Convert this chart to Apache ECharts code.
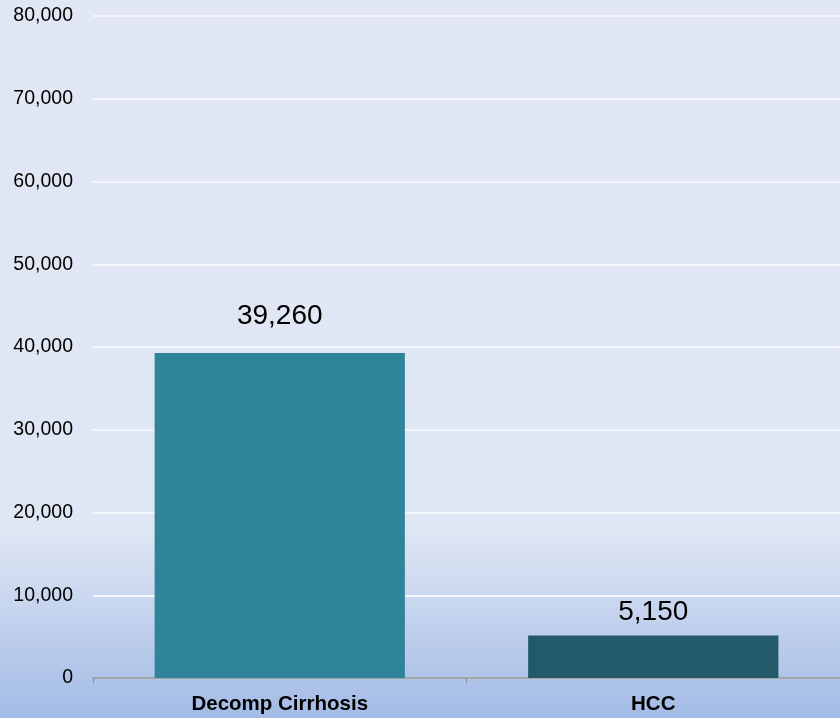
<!DOCTYPE html>
<html>
<head>
<meta charset="utf-8">
<script src="https://cdn.jsdelivr.net/npm/echarts@6/dist/echarts.min.js"></script>
<style>
  html, body { margin: 0; padding: 0; }
  #chart { width: 840px; height: 718px; }
</style>
</head>
<body>
<div id="chart"></div>
<script>
// Annual cases by outcome
const categories = ['Decomp Cirrhosis', 'HCC'];
const values = [39260, 5150];
const barColors = ['#2f8499', '#225a69'];
const labelGaps = [23, 9];

const chart = echarts.init(document.getElementById('chart'));

chart.setOption({
  backgroundColor: new echarts.graphic.LinearGradient(0, 0, 0, 1, [
    { offset: 0, color: '#e1e7f4' },
    { offset: 0.74, color: '#dfe6f4' },
    { offset: 1, color: '#a3bbe6' }
  ]),
  animation: false,
  grid: { left: 93, right: 0, top: 16, bottom: 40, containLabel: false },
  xAxis: {
    type: 'category',
    data: categories,
    axisLine: { lineStyle: { color: '#8a8a8a', width: 1.5 } },
    axisTick: { show: true, length: 5, lineStyle: { color: '#8a8a8a' } },
    axisLabel: {
      fontFamily: 'Liberation Sans, Arial, sans-serif',
      fontWeight: 'bold',
      fontSize: 20.5,
      color: '#000',
      margin: 16
    }
  },
  yAxis: {
    type: 'value',
    min: 0,
    max: 80000,
    interval: 10000,
    axisLine: { show: false },
    axisTick: { show: false },
    splitLine: { lineStyle: { color: '#f3f5fa', width: 2 } },
    axisLabel: {
      fontFamily: 'Liberation Sans, Arial, sans-serif',
      fontSize: 19.5,
      color: '#000',
      margin: 20,
      padding: [5, 0, 0, 0],
      formatter: v => v.toLocaleString('en-US')
    }
  },
  series: [{
    type: 'bar',
    barCategoryGap: '33%',
    data: values.map((v, i) => ({
      value: v,
      itemStyle: { color: barColors[i] },
      label: { distance: labelGaps[i] }
    })),
    label: {
      show: true,
      position: 'top',
      fontFamily: 'Liberation Sans, Arial, sans-serif',
      fontSize: 28,
      color: '#000',
      formatter: p => p.value.toLocaleString('en-US')
    }
  }]
});
</script>
</body>
</html>
